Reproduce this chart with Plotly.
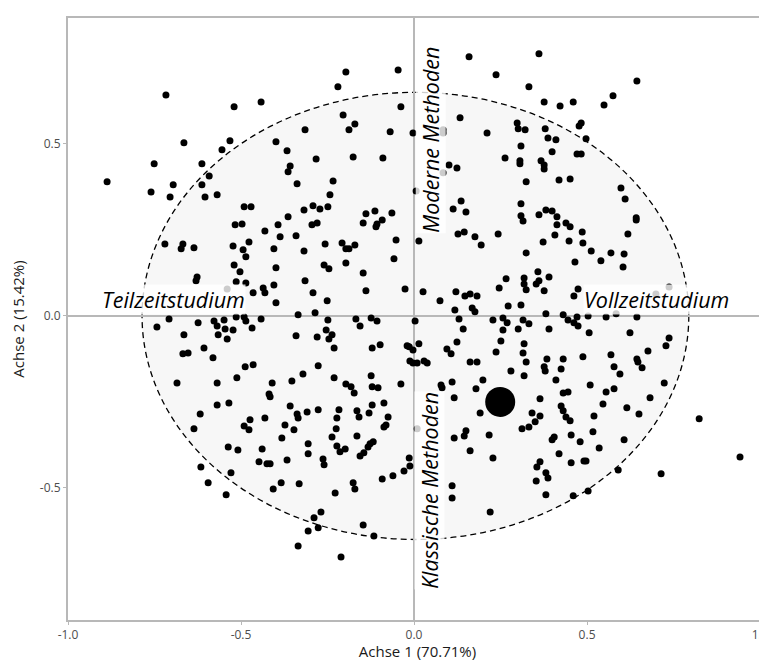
import plotly.graph_objects as go

# Individuals (Achse 1, Achse 2)
pts_x = [
 -0.717,-0.520,-0.665,-0.532,-0.555,-0.751,-0.613,-0.592,-0.887,-0.696,-0.613,-0.760,-0.705,-0.604,-0.569,-0.491,-0.471,
 -0.442,-0.197,-0.220,-0.046,-0.038,-0.205,-0.171,-0.188,-0.315,-0.069,-0.003,-0.399,-0.367,-0.283,-0.176,-0.090,-0.358,-0.364,-0.338,-0.234,-0.243,0.006,-0.318,-0.292,-0.272,-0.249,-0.364,-0.139,-0.113,-0.064,-0.092,
 0.159,0.361,0.237,0.332,0.376,0.422,0.460,0.133,0.084,0.084,0.211,0.298,0.301,0.321,0.379,0.387,0.410,0.483,0.477,0.309,0.399,0.263,0.306,0.306,0.367,0.376,0.376,0.471,0.483,0.101,0.124,0.084,0.324,0.419,0.451,0.136,0.113,0.150,0.309,0.309,0.361,0.381,0.399,0.413,
 0.644,0.575,0.549,0.497,0.598,0.610,0.642,
 -0.517,-0.497,-0.720,-0.668,-0.673,-0.636,-0.523,-0.494,-0.477,-0.486,-0.520,-0.503,-0.627,-0.630,-0.514,-0.486,-0.465,-0.540,-0.708,-0.743,-0.624,-0.578,-0.549,-0.514,-0.491,-0.486,-0.569,-0.546,-0.523,-0.468,-0.665,-0.566,-0.540,-0.607,-0.668,-0.653,-0.581,-0.488,-0.465,-0.512,-0.685,-0.569,
 -0.393,-0.431,-0.295,-0.280,-0.147,-0.110,-0.107,-0.387,-0.341,-0.405,-0.318,-0.257,-0.208,-0.197,-0.188,-0.171,-0.052,0.014,-0.058,-0.399,-0.260,-0.246,-0.197,-0.147,-0.315,-0.405,-0.436,-0.431,-0.292,-0.139,-0.026,-0.251,-0.399,-0.286,-0.335,-0.442,-0.249,-0.168,-0.124,-0.107,-0.156,0.003,-0.254,-0.237,-0.246,-0.341,-0.280,-0.231,-0.121,-0.098,-0.020,-0.014,-0.003,0.014,-0.012,-0.003,0.009,-0.277,-0.321,-0.353,-0.410,-0.231,-0.124,-0.197,-0.182,-0.173,-0.121,-0.104,-0.038,-0.419,
 0.315,0.413,0.439,0.451,0.486,0.488,0.127,0.145,0.176,0.194,0.243,0.373,0.407,0.448,0.324,0.465,0.358,0.390,0.266,0.318,0.318,0.353,0.361,0.246,0.324,0.376,0.474,0.462,0.026,0.121,0.075,0.147,0.162,0.182,0.272,0.309,0.118,0.168,0.176,0.130,0.228,0.257,0.269,0.315,0.332,0.381,0.431,0.445,0.462,0.474,0.471,0.142,0.257,0.301,0.390,0.124,0.251,0.318,0.095,0.107,0.237,0.315,0.384,0.431,0.488,0.029,0.038,0.162,0.182,0.324,0.376,0.379,0.425,0.280,0.318,0.410,0.078,0.081,0.110,0.199,0.179,0.431,0.445,
 0.642,0.618,0.512,0.569,0.607,0.540,0.604,0.737,0.699,0.503,0.555,0.584,0.644,0.506,0.624,0.737,0.728,0.676,0.569,0.644,0.647,0.659,0.578,0.595,0.509,0.723,0.555,0.578,
 -0.569,-0.535,-0.618,-0.636,-0.474,-0.491,-0.477,-0.537,-0.509,-0.616,-0.529,-0.595,-0.543,
 -0.416,-0.358,-0.338,-0.335,-0.309,-0.277,-0.431,-0.373,-0.347,-0.217,-0.223,-0.165,-0.159,-0.130,-0.121,-0.087,-0.075,-0.087,-0.081,0.009,-0.225,-0.237,-0.165,-0.382,-0.306,-0.439,-0.223,-0.199,-0.214,-0.118,-0.127,-0.133,-0.306,-0.145,-0.156,-0.448,-0.425,-0.416,-0.367,-0.263,-0.260,-0.014,-0.012,-0.029,-0.061,-0.092,-0.384,-0.407,-0.332,-0.176,-0.171,-0.228,-0.269,-0.289,-0.277,-0.306,-0.147,-0.116,-0.335,-0.211,
 0.116,0.191,0.364,0.425,0.431,0.439,0.451,0.341,0.364,0.350,0.332,0.312,0.150,0.145,0.116,0.217,0.405,0.399,0.454,0.480,0.162,0.419,0.228,0.454,0.491,0.364,0.355,0.381,0.387,0.353,0.110,0.110,0.381,0.460,0.220,
 0.682,0.546,0.615,0.650,0.520,0.824,0.517,0.607,0.535,0.942,0.497,0.590,0.714,0.503,
]
pts_y = [
 0.642,0.608,0.503,0.509,0.483,0.442,0.442,0.407,0.390,0.381,0.381,0.360,0.346,0.346,0.352,0.317,0.317,
 0.622,0.709,0.666,0.715,0.608,0.584,0.558,0.541,0.541,0.535,0.532,0.506,0.480,0.456,0.462,0.459,0.436,0.419,0.384,0.392,0.352,0.363,0.308,0.320,0.311,0.317,0.288,0.297,0.305,0.299,0.279,
 0.753,0.762,0.701,0.666,0.622,0.610,0.622,0.576,0.541,0.532,0.532,0.561,0.544,0.541,0.544,0.517,0.512,0.561,0.552,0.494,0.477,0.459,0.451,0.442,0.451,0.439,0.427,0.471,0.471,0.439,0.430,0.416,0.390,0.395,0.398,0.334,0.311,0.302,0.326,0.291,0.294,0.308,0.305,0.288,
 0.683,0.640,0.613,0.515,0.372,0.340,0.285,
 0.265,0.267,0.209,0.209,0.195,0.198,0.203,0.192,0.215,0.172,0.148,0.128,0.113,0.102,0.099,0.096,0.067,0.078,-0.009,-0.032,-0.020,-0.015,-0.012,-0.003,-0.003,-0.015,-0.029,-0.038,-0.041,-0.035,-0.055,-0.055,-0.067,-0.093,-0.110,-0.108,-0.122,-0.148,-0.142,-0.180,-0.195,-0.195,
 0.265,0.247,0.265,0.270,0.270,0.259,0.267,0.230,0.233,0.195,0.189,0.209,0.212,0.195,0.195,0.206,0.221,0.218,0.166,0.140,0.148,0.137,0.154,0.125,0.102,0.090,0.081,0.067,0.067,0.073,0.078,0.044,0.038,0.009,0.003,-0.009,-0.012,-0.009,-0.006,-0.015,-0.029,-0.015,-0.041,-0.055,-0.067,-0.058,-0.061,-0.093,-0.093,-0.084,-0.087,-0.090,-0.099,-0.081,-0.131,-0.137,-0.137,-0.145,-0.169,-0.189,-0.195,-0.180,-0.174,-0.198,-0.206,-0.224,-0.206,-0.209,-0.198,-0.227,
 0.276,0.265,0.270,0.259,0.244,0.212,0.238,0.244,0.230,0.206,0.238,0.215,0.235,0.218,0.183,0.157,0.128,0.113,0.108,0.110,0.093,0.093,0.102,0.081,0.076,0.073,0.078,0.058,0.070,0.070,0.044,0.058,0.064,0.058,0.029,0.032,0.017,0.023,0.012,-0.009,-0.012,-0.006,-0.020,-0.012,-0.023,0.006,0.003,-0.012,-0.020,-0.029,-0.003,-0.038,-0.041,-0.038,-0.038,-0.076,-0.073,-0.081,-0.096,-0.110,-0.105,-0.108,-0.125,-0.125,-0.119,-0.131,-0.137,-0.134,-0.134,-0.134,-0.148,-0.160,-0.154,-0.160,-0.174,-0.186,-0.201,-0.209,-0.192,-0.186,-0.212,-0.224,-0.221,
 0.279,0.238,0.189,0.183,0.180,0.160,0.142,0.084,0.064,0.000,-0.003,0.006,-0.003,-0.049,-0.049,-0.064,-0.087,-0.102,-0.113,-0.125,-0.134,-0.151,-0.148,-0.169,-0.201,-0.195,-0.221,-0.212,
 -0.259,-0.253,-0.285,-0.328,-0.302,-0.320,-0.331,-0.381,-0.390,-0.439,-0.456,-0.485,-0.520,
 -0.235,-0.262,-0.285,-0.297,-0.279,-0.273,-0.297,-0.317,-0.331,-0.273,-0.297,-0.276,-0.294,-0.282,-0.259,-0.253,-0.294,-0.323,-0.317,-0.328,-0.328,-0.352,-0.349,-0.355,-0.372,-0.387,-0.378,-0.387,-0.395,-0.366,-0.372,-0.381,-0.401,-0.398,-0.407,-0.424,-0.430,-0.430,-0.419,-0.416,-0.433,-0.413,-0.436,-0.451,-0.465,-0.474,-0.485,-0.503,-0.488,-0.485,-0.503,-0.515,-0.570,-0.587,-0.616,-0.625,-0.608,-0.640,-0.669,-0.701,
 -0.238,-0.282,-0.241,-0.262,-0.276,-0.294,-0.305,-0.282,-0.291,-0.308,-0.323,-0.328,-0.334,-0.349,-0.355,-0.346,-0.352,-0.360,-0.346,-0.366,-0.392,-0.401,-0.413,-0.427,-0.422,-0.424,-0.439,-0.456,-0.471,-0.480,-0.494,-0.529,-0.520,-0.523,-0.570,
 -0.238,-0.256,-0.267,-0.285,-0.291,-0.299,-0.337,-0.360,-0.384,-0.410,-0.422,-0.448,-0.459,-0.509,
]

# Supplementary point (large marker)
sup_x = [0.249]
sup_y = [-0.250]

# Confidence ellipse (centre and semi-axes)
ell_cx, ell_cy = 0.004, 0.0
ell_rx, ell_ry = 0.790, 0.650

# Pole labels: text, x, y, angle
lab_text = ["Teilzeitstudium", "Vollzeitstudium", "Moderne Methoden", "Klassische Methoden"]
lab_x = [-0.694, 0.700, 0.049, 0.046]
lab_y = [0.047, 0.047, 0.512, -0.506]
lab_ang = [0, 0, -90, -90]

x_title = "Achse 1 (70.71%)"
y_title = "Achse 2 (15.42%)"
x_ticks = [-1.0, -0.5, 0.0, 0.5, 1.0]
y_ticks = [-0.5, 0.0, 0.5]

FONT = "Open Sans"
GRID = "#b8b8b8"

fig = go.Figure()
fig.add_shape(type="circle", xref="x", yref="y",
              x0=ell_cx - ell_rx, x1=ell_cx + ell_rx,
              y0=ell_cy - ell_ry, y1=ell_cy + ell_ry,
              fillcolor="#f7f7f7", line=dict(color="black", width=1.3, dash="6px,4px"),
              layer="below")
fig.add_trace(go.Scatter(x=pts_x, y=pts_y, mode="markers",
                         marker=dict(color="black", size=7), hoverinfo="skip"))
fig.add_trace(go.Scatter(x=sup_x, y=sup_y, mode="markers",
                         marker=dict(color="black", size=30), hoverinfo="skip"))

for t, x, y, a in zip(lab_text, lab_x, lab_y, lab_ang):
    fig.add_annotation(x=x, y=y, xref="x", yref="y", text="<i>" + t + "</i>",
                       showarrow=False, textangle=a,
                       font=dict(family=FONT, size=21.5, color="black"),
                       bgcolor="rgba(255,255,255,0.8)", borderpad=0)

# the page body adds an 8px offset; the figure is sized so the plot area
# lands at the same window position as the reference
fig.update_layout(
    width=759, height=653,
    margin=dict(l=60, r=0, t=10, b=41),
    paper_bgcolor="white", plot_bgcolor="white",
    showlegend=False,
    font=dict(family=FONT),
    xaxis=dict(range=[-1.0, 1.02], tickvals=x_ticks, ticktext=["-1.0", "-0.5", "0.0", "0.5", "1.0"],
               automargin=False, ticklabeloverflow="allow",
               showgrid=False, zeroline=True, zerolinecolor=GRID, zerolinewidth=2,
               showline=True, linecolor=GRID, linewidth=2, mirror=True,
               ticks="outside", ticklen=3, tickcolor=GRID, tickwidth=1,
               tickfont=dict(size=12, color="#4d4d4d"),
               title=dict(text=x_title, font=dict(size=15, color="#1a1a1a"), standoff=2)),
    yaxis=dict(range=[-0.884, 0.866], tickvals=y_ticks, ticktext=["-0.5", "0.0", "0.5"],
               automargin=False,
               showgrid=False, zeroline=True, zerolinecolor=GRID, zerolinewidth=2,
               showline=True, linecolor=GRID, linewidth=2, mirror=False,
               ticks="outside", ticklen=3, tickcolor=GRID, tickwidth=1,
               tickfont=dict(size=12, color="#4d4d4d"),
               title=dict(text=y_title, font=dict(size=15, color="#1a1a1a"))),
)

fig.write_html("out.html")
